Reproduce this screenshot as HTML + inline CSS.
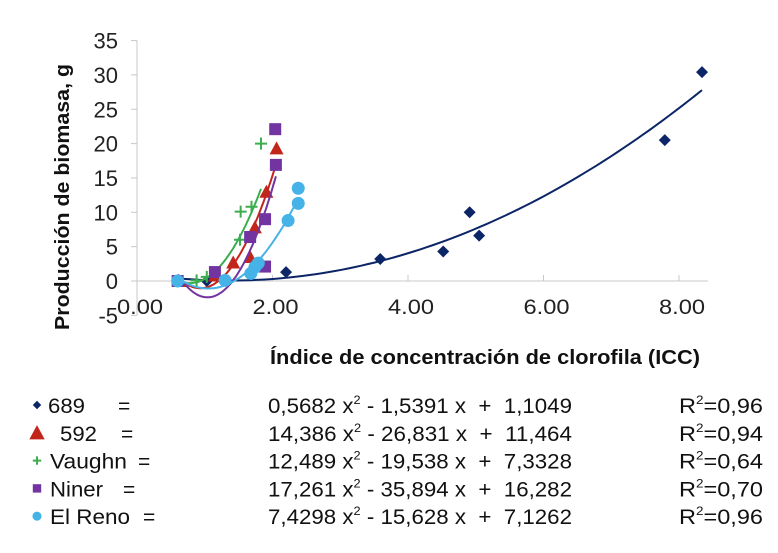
<!DOCTYPE html>
<html><head><meta charset="utf-8"><style>
html,body{margin:0;padding:0;background:#fff;}
svg{display:block;font-family:"Liberation Sans",Arial,sans-serif;}
</style></head><body>
<svg id="chart" width="778" height="553" viewBox="0 0 778 553" xmlns="http://www.w3.org/2000/svg">
<g id="axes"></g>
<g id="series"></g>
<text transform="translate(69,197) rotate(-90)" text-anchor="middle" font-size="20" font-weight="bold" fill="#111" textLength="266" lengthAdjust="spacingAndGlyphs">Producción de biomasa, g</text>
<text x="270" y="364" font-size="20" font-weight="bold" fill="#111" textLength="430" lengthAdjust="spacingAndGlyphs">Índice de concentración de clorofila (ICC)</text>
<g id="legend" font-size="21" fill="#111"></g>
</svg>
<script>
const yTicks=[35,30,25,20,15,10,5,0,-5];
const xTicks=[0,2,4,6,8];
const xTickLabels=["0.00","2.00","4.00","6.00","8.00"];
const seriesNames=["689","592","Vaughn","Niner","El Reno"];
const colors=["#0b2566","#c2261b","#3cad4e","#7234a0","#46b3e8"];
const shapes=["diamond","triangle","plus","square","circle"];
const x689=[0.6,1.03,2.2,3.59,4.52,4.91,5.05,7.79,8.34];
const y689=[0,0,1.3,3.2,4.3,10.0,6.6,20.5,30.4];
const x592=[0.62,1.15,1.42,1.67,1.74,1.91,2.06];
const y592=[0,0.8,2.7,3.5,7.8,13.0,19.3];
const xVaughn=[0.6,0.88,1.03,1.52,1.53,1.69,1.83];
const yVaughn=[0,0.1,0.6,6.0,10.1,10.8,20.0];
const xNiner=[0.6,1.15,1.67,1.89,1.89,2.04,2.05];
const yNiner=[0,1.3,6.4,2.1,9.0,22.1,16.9];
const xReno=[0.6,1.30,1.68,1.74,1.79,2.23,2.38,2.38];
const yReno=[0,0.1,1.1,2.0,2.6,8.8,11.3,13.5];
const coefA=[0.5682,14.386,12.489,17.261,7.4298];
const coefB=[-1.5391,-26.831,-19.538,-35.894,-15.628];
const coefC=[1.1049,11.464,7.3328,16.282,7.1262];
const eqTexts=[["0,5682","1,5391","1,1049"],["14,386","26,831","11,464"],["12,489","19,538","7,3328"],["17,261","35,894","16,282"],["7,4298","15,628","7,1262"]];
const r2Texts=["0,96","0,94","0,64","0,70","0,96"];

const X=v=>137+v*67.75, Y=v=>281-v*6.87;
const NS="http://www.w3.org/2000/svg";
function mk(tag,attrs,parent){const e=document.createElementNS(NS,tag);for(const k in attrs)e.setAttribute(k,attrs[k]);parent.appendChild(e);return e;}
const axes=document.getElementById('axes');
let l=mk('line',{x1:137,y1:Y(35),x2:137,y2:Y(-5),stroke:'#c8c8c8','stroke-width':1},axes);


l=mk('line',{x1:137,y1:281,x2:708,y2:281,stroke:'#c8c8c8','stroke-width':1},axes);


yTicks.forEach(v=>{
  mk('line',{x1:131,x2:137,y1:Y(v),y2:Y(v),stroke:'#c8c8c8'},axes);
  const t=mk('text',{x:118,y:Y(v)+8,'text-anchor':'end','font-size':22,fill:'#222'},axes);
  t.textContent=String(v);
  
  
});
xTicks.forEach((v,i)=>{
  mk('line',{x1:X(v),x2:X(v),y1:275,y2:281,stroke:'#c8c8c8'},axes);
  const t=mk('text',{x:X(v)+3,y:314,'text-anchor':'middle','font-size':21,fill:'#222',textLength:46,lengthAdjust:'spacingAndGlyphs'},axes);
  t.textContent=xTickLabels[i];
  
  
});
function marker(shape,cx,cy,c,parent,s){
  s=s||1;let e;
  if(shape==='diamond')e=mk('polygon',{points:`${cx},${cy-6*s} ${cx+6*s},${cy} ${cx},${cy+6*s} ${cx-6*s},${cy}`,fill:c},parent);
  else if(shape==='triangle')e=mk('polygon',{points:`${cx},${cy-7*s} ${cx+7*s},${cy+6*s} ${cx-7*s},${cy+6*s}`,fill:c},parent);
  else if(shape==='square')e=mk('rect',{x:cx-6*s,y:cy-6*s,width:12*s,height:12*s,fill:c},parent);
  else if(shape==='circle')e=mk('circle',{cx:cx,cy:cy,r:6.5*s,fill:c},parent);
  else e=mk('path',{d:`M${cx-6*s},${cy}H${cx+6*s}M${cx},${cy-6*s}V${cy+6*s}`,stroke:c,'stroke-width':2,fill:'none'},parent);
  return e;
}
const xs=[x689,x592,xVaughn,xNiner,xReno], ys=[y689,y592,yVaughn,yNiner,yReno];
const ser=document.getElementById('series');
seriesNames.forEach((n,i)=>{
  const g=mk('g',{},ser);
  
  
  const x0=Math.min(...xs[i]), x1=Math.max(...xs[i]);
  let d='';
  for(let k=0;k<=80;k++){const x=x0+(x1-x0)*k/80;const y=coefA[i]*x*x+coefB[i]*x+coefC[i];d+=(k?'L':'M')+X(x).toFixed(1)+','+Y(y).toFixed(1);}
  const p=mk('path',{d:d,fill:'none',stroke:colors[i],'stroke-width':2},g);
  
  
  xs[i].forEach((x,j)=>{
    const m=marker(shapes[i],X(x),Y(ys[i][j]),colors[i],g);
    
    
  });
});
const leg=document.getElementById('legend');
const labels=["689","592","Vaughn","Niner","El Reno"];
const lx=[48,60,50,50,50];
const lw=[37,37,77,53,80];
const eqx=[118,121,138,123,143];
seriesNames.forEach((n,i)=>{
  const cy=405+i*27.8, by=cy+8;
  const g=mk('g',{},leg);
  
  
  marker(shapes[i],37,cy,colors[i],g,i===1?1.1:0.7);
  let t=mk('text',{x:lx[i],y:by,textLength:lw[i],lengthAdjust:'spacingAndGlyphs'},g);t.textContent=labels[i];
  t=mk('text',{x:eqx[i],y:by},g);t.textContent='=';
  const e=eqTexts[i];
  t=mk('text',{x:268,y:by,textLength:304,lengthAdjust:'spacingAndGlyphs'},g);
  t.innerHTML=`${e[0]} x<tspan dy="-9" font-size="12">2</tspan><tspan dy="9"> - ${e[1]} x  +  ${e[2]}</tspan>`;
  t.setAttribute('style','white-space:pre');
  t=mk('text',{x:679,y:by,textLength:84,lengthAdjust:'spacingAndGlyphs'},g);
  t.innerHTML=`R<tspan dy="-9" font-size="12">2</tspan><tspan dy="9">=${r2Texts[i]}</tspan>`;
});
</script>
</body></html>
